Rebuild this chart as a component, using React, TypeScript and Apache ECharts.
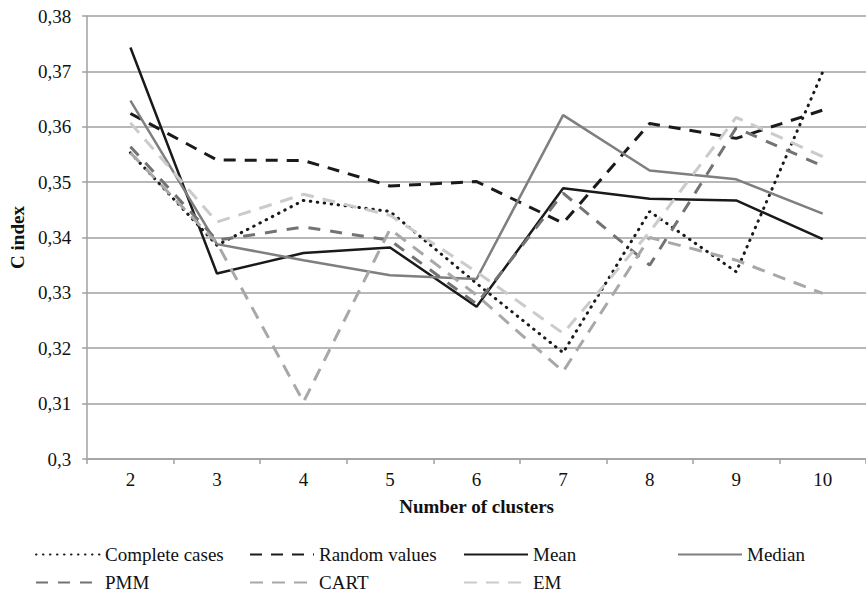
import React, { useEffect, useRef } from "react";
import * as echarts from "echarts";

const categories = ["2", "3", "4", "5", "6", "7", "8", "9", "10"];
const completeCases = [0.3553, 0.3386, 0.3467, 0.3447, 0.3317, 0.3192, 0.3447, 0.3338, 0.3699];
const randomValues = [0.3624, 0.354, 0.3539, 0.3493, 0.3501, 0.3426, 0.3606, 0.3579, 0.363];
const meanValues = [0.3743, 0.3335, 0.3372, 0.3382, 0.3275, 0.3489, 0.347, 0.3467, 0.3397];
const medianValues = [0.3647, 0.3388, 0.3359, 0.3332, 0.3325, 0.3621, 0.3521, 0.3505, 0.3443];
const pmmValues = [0.3564, 0.3395, 0.3419, 0.3395, 0.328, 0.348, 0.335, 0.3598, 0.3529];
const cartValues = [0.3553, 0.339, 0.3103, 0.3415, 0.3296, 0.3158, 0.34, 0.3359, 0.3299];
const emValues = [0.3607, 0.3428, 0.3478, 0.344, 0.3338, 0.3227, 0.341, 0.3617, 0.3546];

const FONT = "'Liberation Serif', 'Times New Roman', 'DejaVu Serif', serif";

export default function App() {
  const ref = useRef<HTMLDivElement>(null);
  useEffect(() => {
    document.body.style.margin = "0";
    if (!ref.current) return;
    const chart = echarts.init(ref.current, null, { renderer: "svg" });
    const mk = (name: string, data: number[], color: string, width: number, type: any, cap = "butt") => ({
      name,
      type: "line",
      data,
      symbol: "none",
      showSymbol: false,
      lineStyle: { color, width, type, cap },
      itemStyle: { color },
    });
    const series = [
      mk("Complete cases", completeCases, "#1a1a1a", 3, [0.5, 6.5], "round"),
      mk("Random values", randomValues, "#1a1a1a", 3, [12, 9]),
      mk("Mean", meanValues, "#1a1a1a", 2.5, "solid"),
      mk("Median", medianValues, "#7f7f7f", 2.5, "solid"),
      mk("PMM", pmmValues, "#737373", 3, [12, 10]),
      mk("CART", cartValues, "#a8a8a8", 3, [13, 9]),
      mk("EM", emValues, "#cbcbcb", 3, [13, 9]),
    ];
    const legendPos: [string, number, number][] = [
      ["Complete cases", 35, 545],
      ["Random values", 249, 545],
      ["Mean", 463, 545],
      ["Median", 677, 545],
      ["PMM", 35, 573],
      ["CART", 249, 573],
      ["EM", 463, 573],
    ];
    const legends = legendPos.map(([name, left, top]) => ({
      data: [name],
      left,
      top,
      itemWidth: 64,
      itemHeight: 14,
      padding: 0,
      selectedMode: false,
      itemStyle: { color: "rgba(0,0,0,0)", borderColor: "rgba(0,0,0,0)", borderWidth: 0, opacity: 0 },
      textStyle: { fontFamily: FONT, fontSize: 19, color: "#111" },
    }));
    chart.setOption({
      animation: false,
      grid: { left: 83, right: 0, top: 16, bottom: 140, containLabel: false },
      legend: legends,
      xAxis: {
        type: "category",
        data: categories,
        boundaryGap: true,
        name: "Number of clusters",
        nameLocation: "middle",
        nameGap: 38,
        nameTextStyle: { fontFamily: FONT, fontSize: 19, fontWeight: "bold", color: "#111" },
        axisLine: { lineStyle: { color: "#a0a0a0", width: 1.5 } },
        axisTick: { show: true, length: 5, alignWithLabel: false, lineStyle: { color: "#a0a0a0", width: 1.5 } },
        axisLabel: { fontFamily: FONT, fontSize: 19, color: "#111", margin: 11 },
        splitLine: { show: false },
      },
      yAxis: {
        type: "value",
        min: 0.3,
        max: 0.38,
        interval: 0.01,
        name: "C index",
        nameLocation: "middle",
        nameGap: 51,
        nameRotate: 90,
        nameTextStyle: { fontFamily: FONT, fontSize: 19, fontWeight: "bold", color: "#111" },
        axisLine: { show: true, lineStyle: { color: "#a0a0a0", width: 1.5 } },
        axisTick: { show: true, length: 5, lineStyle: { color: "#a0a0a0", width: 1.5 } },
        axisLabel: {
          fontFamily: FONT,
          fontSize: 19,
          color: "#111",
          margin: 16,
          formatter: (v: number) => parseFloat(v.toFixed(2)).toString().replace(".", ","),
        },
        splitLine: { show: true, lineStyle: { color: "#a0a0a0", width: 1.5 } },
      },
      series,
    });
    return () => chart.dispose();
  }, []);
  return <div ref={ref} style={{ width: 866, height: 599 }} />;
}
